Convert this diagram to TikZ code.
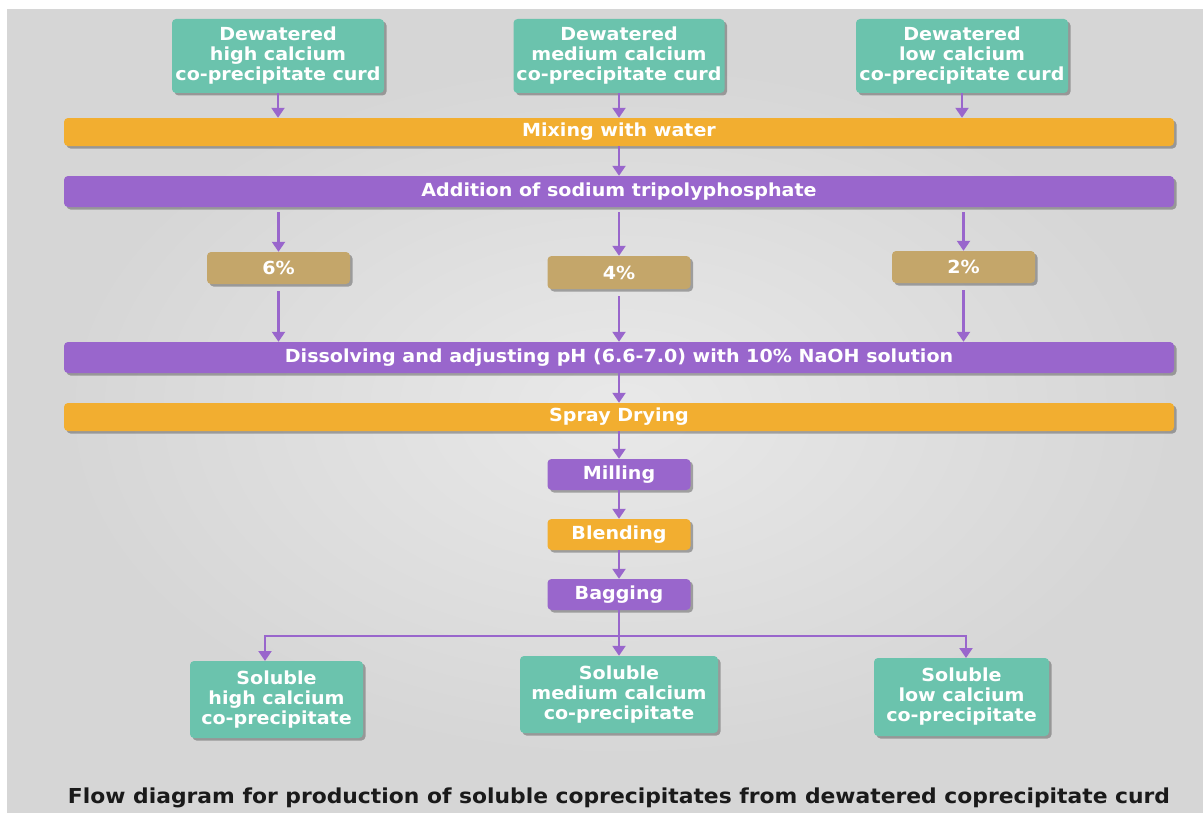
\documentclass[tikz,border=0pt]{standalone}
\usepackage{fontspec}
\setmainfont{DejaVu Sans}[FakeStretch=1.06]
\usetikzlibrary{shadows,arrows.meta}
\definecolor{bgout}{HTML}{D6D6D6}
\definecolor{bgin}{HTML}{E9E9E9}
\definecolor{teal}{HTML}{6BC3AD}
\definecolor{orng}{HTML}{F2AE30}
\definecolor{purp}{HTML}{9966CC}
\definecolor{tan}{HTML}{C4A66A}
\definecolor{captc}{HTML}{1A1A1A}
\tikzset{
  box/.style={rounded corners=4pt, inner sep=0pt, align=center, text=white,
    font=\bfseries\fontsize{18}{20}\selectfont,
    drop shadow={shadow xshift=2.5pt, shadow yshift=-2.5pt, opacity=0.45, fill=black!70}},
  tealbox/.style={box, fill=teal},
  orbar/.style={box, fill=orng},
  pubar/.style={box, fill=purp},
  tanbox/.style={box, fill=tan},
  arr/.style={draw=purp, line width=2.2pt, -{Triangle[width=13pt,length=10pt]}},
}
\begin{document}
\begin{tikzpicture}[x=1pt,y=-1pt]
\fill[white] (0,0) rectangle (1203,816);
\fill[bgout] (7,9) rectangle (1203,813);
\shade[outer color=bgout, inner color=bgin] (60,60) rectangle (1180,760);
\useasboundingbox (0,0) rectangle (1203,816);

% top boxes
\node[tealbox, minimum width=212pt, minimum height=74pt] (th) at (278,56) {Dewatered\\high calcium\\co-precipitate curd};
\node[tealbox, minimum width=211pt, minimum height=74pt] (tm) at (619,56) {Dewatered\\medium calcium\\co-precipitate curd};
\node[tealbox, minimum width=212pt, minimum height=74pt] (tl) at (962,56) {Dewatered\\low calcium\\co-precipitate curd};

% bars
\node[orbar, minimum width=1110pt, minimum height=28pt] (mix) at (619,132) {Mixing with water};
\node[pubar, minimum width=1110pt, minimum height=31pt] (add) at (619,191.5) {Addition of sodium tripolyphosphate};

% percentages
\node[tanbox, minimum width=143pt, minimum height=32pt] (p6) at (278.5,268) {6\%};
\node[tanbox, minimum width=143pt, minimum height=33pt] (p4) at (619,272.5) {4\%};
\node[tanbox, minimum width=143pt, minimum height=32pt] (p2) at (963.5,267) {2\%};

\node[pubar, minimum width=1110pt, minimum height=31pt] (dis) at (619,357.5) {Dissolving and adjusting pH (6.6-7.0) with 10\% NaOH solution};
\node[orbar, minimum width=1110pt, minimum height=28pt] (spr) at (619,417) {Spray Drying};

\node[pubar, minimum width=143pt, minimum height=31pt] (mil) at (619,474.5) {Milling};
\node[orbar, minimum width=143pt, minimum height=31pt] (ble) at (619,534.5) {Blending};
\node[pubar, minimum width=143pt, minimum height=31pt] (bag) at (619,594.5) {Bagging};

% bottom boxes
\node[tealbox, minimum width=173pt, minimum height=77pt] (bh) at (276.5,699.5) {Soluble\\high calcium\\co-precipitate};
\node[tealbox, minimum width=198pt, minimum height=77pt] (bm) at (619,694.5) {Soluble\\medium calcium\\co-precipitate};
\node[tealbox, minimum width=175pt, minimum height=78pt] (bl) at (961.5,697) {Soluble\\low calcium\\co-precipitate};

\node[text=captc, font=\bfseries\fontsize{20.6}{23}\selectfont] (cap) at (619,798) {Flow diagram for production of soluble coprecipitates from dewatered coprecipitate curd};

% connectors
\draw[arr] (th.south) -- (th.south |- mix.north);
\draw[arr] (tm.south) -- (tm.south |- mix.north);
\draw[arr] (tl.south) -- (tl.south |- mix.north);
\draw[arr] (mix.south) -- (add.north);
\draw[arr, shorten <=5pt] (add.south -| p6.north) -- (p6.north);
\draw[arr, shorten <=5pt] (add.south -| p4.north) -- (p4.north);
\draw[arr, shorten <=5pt] (add.south -| p2.north) -- (p2.north);
\draw[arr, shorten <=7pt] (p6.south) -- (p6.south |- dis.north);
\draw[arr, shorten <=7pt] (p4.south) -- (p4.south |- dis.north);
\draw[arr, shorten <=7pt] (p2.south) -- (p2.south |- dis.north);
\draw[arr] (dis.south) -- (spr.north);
\draw[arr] (spr.south) -- (mil.north);
\draw[arr] (mil.south) -- (ble.north);
\draw[arr] (ble.south) -- (bag.north);
\draw[arr] (bag.south) -- (bm.north);
\coordinate (j) at (619,636);
\coordinate (eh) at (265,661);
\coordinate (el) at (966,658);
\draw[arr] (j) -| (eh);
\draw[arr] (j) -| (el);
\end{tikzpicture}
\end{document}
